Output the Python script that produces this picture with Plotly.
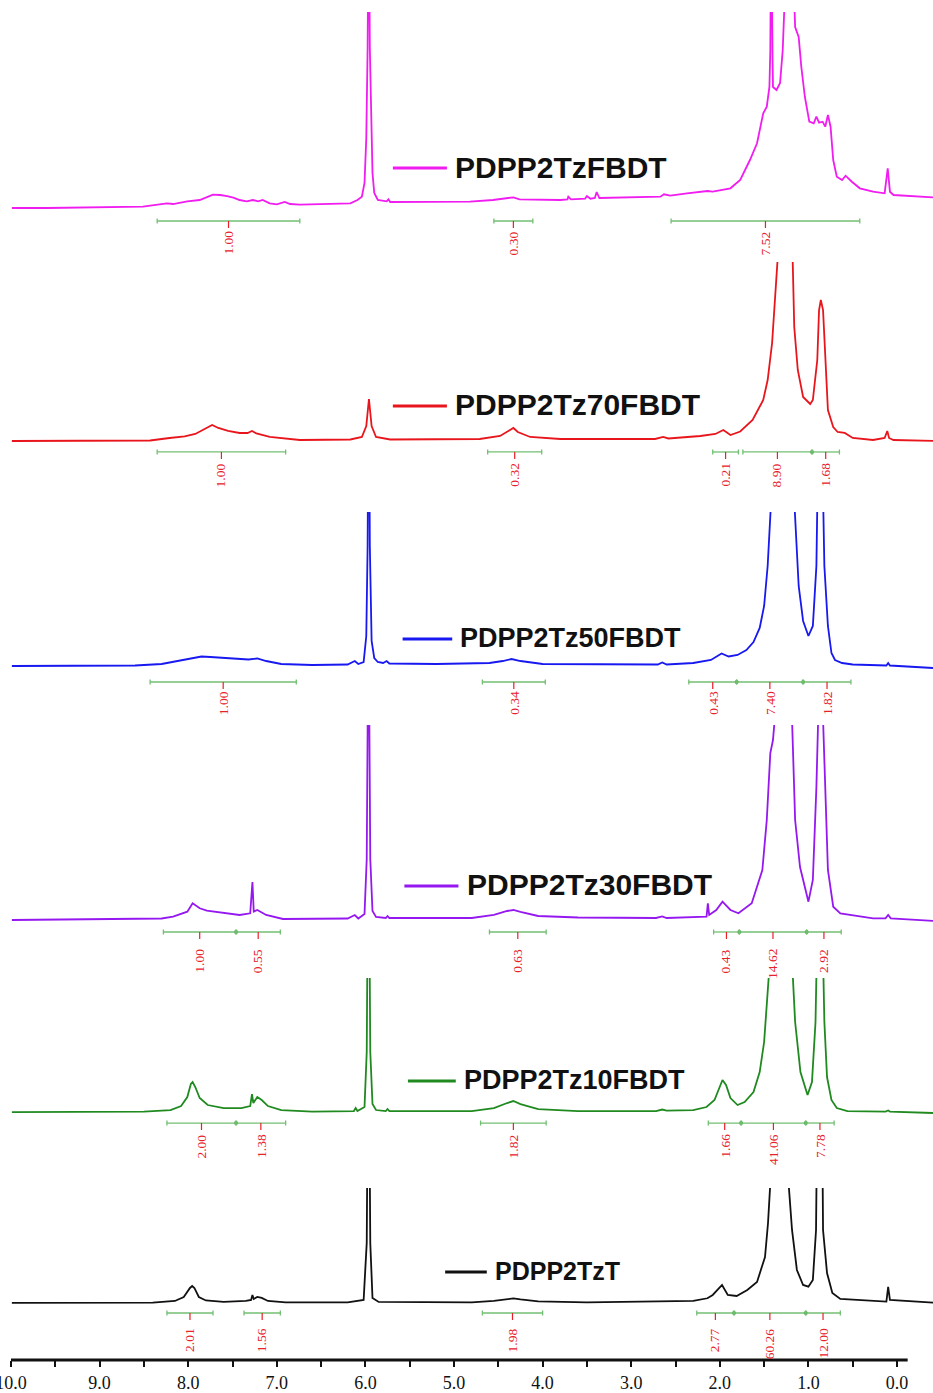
import plotly.graph_objects as go

# ---------------------------------------------------------------------------
# 1H NMR spectra (chemical shift in ppm, intensity in a.u.)
# ---------------------------------------------------------------------------
spec_fbdt = [
    (9.99, 0), (9.59, 0), (8.51, 1.3), (8.24, 4.7), (8.17, 4), (8.01, 6.7), (7.87, 8),
    (7.79, 10.7), (7.72, 13.3), (7.64, 13), (7.56, 12), (7.49, 10.3), (7.42, 8), (7.34, 6.7),
    (7.27, 8), (7.21, 6.7), (7.16, 8), (7.08, 4.7), (7.00, 3.7), (6.91, 6), (6.85, 4),
    (6.74, 3.3), (6.17, 4.7), (6.09, 8), (6.04, 11.3), (6.01, 25), (5.99, 70), (5.975, 160),
    (5.962, 320), (5.95, 160), (5.935, 80), (5.92, 35), (5.90, 15), (5.86, 8), (5.76, 6.7),
    (5.74, 8.7), (5.72, 6), (4.82, 6.3), (4.56, 8), (4.33, 10.7), (4.26, 8.7), (3.80, 8),
    (3.72, 8.7), (3.71, 11.3), (3.68, 8.7), (3.52, 9.3), (3.50, 12), (3.46, 9.3), (3.41, 10),
    (3.39, 16), (3.36, 10), (2.67, 11.3), (2.63, 13.7), (2.56, 12.3), (2.37, 14.7),
    (2.22, 16.3), (2.14, 17), (2.08, 16.3), (1.96, 18), (1.88, 19.7), (1.77, 28), (1.66, 48),
    (1.58, 64.7), (1.51, 94.7), (1.47, 101.3), (1.44, 121.3), (1.43, 158), (1.42, 300),
    (1.405, 150), (1.40, 121), (1.36, 118), (1.32, 125), (1.29, 158), (1.26, 250), (1.22, 320),
    (1.18, 260), (1.16, 200), (1.15, 181), (1.11, 171), (1.08, 141), (1.04, 111), (0.99, 86.3),
    (0.94, 84.7), (0.91, 91.3), (0.88, 85.3), (0.84, 86.3), (0.81, 81.3), (0.78, 93),
    (0.75, 81.3), (0.72, 48), (0.68, 31.3), (0.62, 28), (0.58, 32.3), (0.51, 26.3),
    (0.42, 19.7), (0.27, 16.3), (0.14, 14.7), (0.105, 39.7), (0.08, 16.3), (0.04, 13),
    (-0.41, 10.7),
]

spec_70 = [
    (9.99, 0), (8.43, 0.5), (8.21, 3), (8.04, 4.5), (7.92, 7), (7.81, 12), (7.73, 16),
    (7.66, 13), (7.55, 10), (7.42, 8), (7.33, 8), (7.28, 10), (7.23, 7.5), (7.08, 4),
    (6.74, 1), (6.17, 1.5), (6.04, 4), (5.99, 15), (5.96, 42), (5.93, 15), (5.88, 4),
    (5.72, 1.5), (4.71, 2), (4.48, 5), (4.37, 11), (4.33, 13), (4.28, 9), (4.14, 4),
    (3.80, 2), (2.73, 2), (2.64, 4), (2.58, 2.5), (2.22, 5), (2.05, 7), (1.96, 11),
    (1.88, 6), (1.77, 9.5), (1.63, 21), (1.51, 41), (1.46, 61), (1.41, 98), (1.38, 148),
    (1.35, 190), (1.30, 280), (1.26, 300), (1.21, 260), (1.18, 190), (1.16, 114),
    (1.12, 71), (1.06, 44), (0.98, 37), (0.95, 41), (0.90, 81), (0.88, 131), (0.86, 141),
    (0.835, 131), (0.81, 81), (0.78, 31), (0.72, 14), (0.67, 9), (0.59, 8), (0.50, 3),
    (0.27, 1), (0.14, 3), (0.11, 10), (0.09, 3), (0.04, 1), (-0.41, 0),
]

spec_50 = [
    (9.99, 0), (8.6, 0.5), (8.3, 2), (8.1, 5), (7.95, 8), (7.85, 9.5), (7.75, 9), (7.6, 8),
    (7.45, 7), (7.32, 6.5), (7.22, 7.5), (7.12, 5), (6.95, 2), (6.6, 1), (6.2, 1.5),
    (6.12, 5), (6.08, 2), (6.02, 4), (5.99, 30), (5.975, 120), (5.962, 320), (5.95, 120),
    (5.93, 25), (5.90, 8), (5.86, 4), (5.80, 3), (5.76, 5), (5.73, 2.5), (5.2, 2), (4.6, 3),
    (4.45, 5), (4.35, 7), (4.25, 5), (4.0, 2), (2.7, 1.5), (2.65, 3.5), (2.60, 1.5),
    (2.3, 3), (2.1, 6), (1.98, 12.5), (1.90, 9.5), (1.80, 11), (1.70, 16), (1.62, 24),
    (1.55, 38), (1.50, 60), (1.46, 100), (1.44, 150), (1.43, 170), (1.40, 200), (1.30, 300),
    (1.22, 300), (1.18, 200), (1.15, 150), (1.11, 80), (1.06, 45), (1.00, 30), (0.95, 40),
    (0.91, 100), (0.89, 220), (0.87, 320), (0.845, 220), (0.82, 100), (0.78, 40),
    (0.74, 13), (0.70, 6), (0.62, 3), (0.50, 1.5), (0.2, 0.5), (0.12, 0.5), (0.10, 3),
    (0.08, 0.5), (-0.41, -2),
]

spec_30 = [
    (9.99, -1), (8.30, 0.5), (8.17, 2.3), (8.01, 7.3), (7.95, 15.7), (7.87, 10.7),
    (7.79, 8.3), (7.56, 5.7), (7.42, 4), (7.30, 5.7), (7.275, 37), (7.26, 7.3), (7.22, 9),
    (7.12, 4), (6.93, 0), (6.2, 0.5), (6.12, 4), (6.08, 0.5), (6.01, 5), (5.985, 60),
    (5.965, 320), (5.945, 60), (5.92, 8), (5.88, 2), (5.77, 1), (5.75, 3), (5.73, 1),
    (4.8, 1), (4.55, 4), (4.40, 8), (4.33, 9), (4.25, 7), (4.05, 3), (3.6, 1.5), (2.72, 1),
    (2.65, 2.5), (2.60, 1), (2.15, 2.3), (2.135, 15.7), (2.12, 4), (2.04, 9), (1.97, 17.3),
    (1.88, 9), (1.79, 5.7), (1.64, 15.7), (1.52, 49), (1.47, 99), (1.43, 166), (1.42, 172),
    (1.40, 179), (1.38, 200), (1.30, 320), (1.22, 300), (1.185, 200), (1.15, 99),
    (1.095, 52), (1.00, 17.3), (0.95, 39), (0.91, 132), (0.89, 200), (0.87, 320),
    (0.835, 200), (0.81, 132), (0.78, 49), (0.72, 12.3), (0.64, 5.7), (0.27, 0.7),
    (0.13, 0.7), (0.10, 4), (0.07, 0.7), (-0.41, -2),
]

spec_10 = [
    (9.99, 0), (8.5, 0.5), (8.2, 2), (8.08, 6), (8.01, 15), (7.97, 28), (7.95, 30),
    (7.92, 25), (7.87, 14), (7.78, 7), (7.60, 4), (7.40, 4), (7.30, 6), (7.28, 18),
    (7.265, 9), (7.22, 15), (7.17, 12), (7.10, 6), (6.95, 2), (6.6, 0.5), (6.13, 1),
    (6.11, 4), (6.09, 1), (6.01, 5), (5.985, 60), (5.965, 320), (5.945, 60), (5.92, 8),
    (5.88, 2), (5.77, 1), (5.75, 3), (5.73, 1), (4.8, 1), (4.55, 4), (4.40, 9), (4.33, 11),
    (4.25, 8), (4.05, 3), (3.6, 1), (2.72, 1), (2.65, 2.5), (2.60, 1.5), (2.3, 2), (2.15, 5),
    (2.06, 12), (2.00, 26), (1.97, 32), (1.93, 27), (1.88, 14), (1.80, 7), (1.72, 10),
    (1.62, 20), (1.55, 40), (1.50, 70), (1.46, 120), (1.44, 160), (1.30, 320), (1.22, 300),
    (1.19, 160), (1.15, 90), (1.09, 40), (1.01, 17), (0.96, 30), (0.92, 90), (0.895, 200),
    (0.87, 320), (0.845, 200), (0.82, 90), (0.79, 35), (0.74, 12), (0.68, 4), (0.56, 1),
    (0.13, 0.5), (0.10, 1.5), (0.08, 0.5), (-0.41, -1),
]

spec_t = [
    (9.99, 0), (8.4, 0.3), (8.15, 2), (8.05, 6), (7.98, 15), (7.955, 17), (7.93, 15),
    (7.88, 6), (7.80, 2.5), (7.6, 1), (7.35, 2), (7.29, 3), (7.275, 8), (7.26, 4),
    (7.22, 6), (7.17, 5), (7.10, 2), (6.9, 0.5), (6.2, 0.5), (6.02, 3), (5.985, 60),
    (5.965, 320), (5.945, 60), (5.92, 5), (5.85, 1), (4.8, 0.5), (4.55, 2), (4.40, 4),
    (4.33, 4.5), (4.25, 3.5), (4.05, 1.5), (3.5, 0.5), (2.3, 2), (2.14, 4.7), (2.08, 8),
    (1.975, 18), (1.91, 8), (1.81, 7), (1.69, 13), (1.58, 21), (1.49, 46), (1.456, 80),
    (1.42, 113), (1.30, 320), (1.24, 300), (1.22, 115), (1.185, 73), (1.13, 33),
    (1.06, 18), (1.00, 16.3), (0.95, 23), (0.914, 73), (0.90, 200), (0.87, 320),
    (0.846, 200), (0.835, 73), (0.79, 30), (0.73, 10), (0.64, 4), (0.27, 2.3), (0.12, 1.3),
    (0.10, 16), (0.08, 3), (-0.41, 0.3),
]

sample_names = ["PDPP2TzFBDT", "PDPP2Tz70FBDT", "PDPP2Tz50FBDT",
                "PDPP2Tz30FBDT", "PDPP2Tz10FBDT", "PDPP2TzT"]
spectra = [spec_fbdt, spec_70, spec_50, spec_30, spec_10, spec_t]

# integration regions: (start ppm, end ppm, integral)
integrals = [
    [(8.35, 6.74, "1.00"), (4.55, 4.11, "0.30"), (2.55, 0.42, "7.52")],
    [(8.35, 6.90, "1.00"), (4.62, 4.01, "0.32"), (2.08, 1.79, "0.21"),
     (1.74, 0.96, "8.90"), (0.96, 0.65, "1.68")],
    [(8.43, 6.78, "1.00"), (4.68, 3.97, "0.34"), (2.35, 1.81, "0.43"),
     (1.81, 1.06, "7.40"), (1.06, 0.52, "1.82")],
    [(8.28, 7.46, "1.00"), (7.46, 6.96, "0.55"), (4.60, 3.96, "0.63"),
     (2.07, 1.78, "0.43"), (1.78, 1.02, "14.62"), (1.02, 0.63, "2.92")],
    [(8.24, 7.46, "2.00"), (7.46, 6.90, "1.38"), (4.70, 3.96, "1.82"),
     (2.13, 1.76, "1.66"), (1.76, 1.03, "41.06"), (1.03, 0.71, "7.78")],
    [(8.24, 7.72, "2.01"), (7.37, 6.96, "1.56"), (4.68, 4.00, "1.98"),
     (2.26, 1.84, "2.77"), (1.84, 1.03, "60.26"), (1.03, 0.64, "12.00")],
]

tick_ppm = [10.0, 9.5, 9.0, 8.5, 8.0, 7.5, 7.0, 6.5, 6.0, 5.5, 5.0,
            4.5, 4.0, 3.5, 3.0, 2.5, 2.0, 1.5, 1.0, 0.5, 0.0]
tick_text = ["10.0", "", "9.0", "", "8.0", "", "7.0", "", "6.0", "", "5.0",
             "", "4.0", "", "3.0", "", "2.0", "", "1.0", "", "0.0"]

# ---------------------------------------------------------------------------
# styling / layout
# ---------------------------------------------------------------------------
colors = ["#f01cf0", "#e8161c", "#1818f0", "#9618f0", "#208a20", "#111111"]
domains = [(0.8119, 0.9914), (0.6375, 0.8119), (0.4831, 0.6325),
           (0.3001, 0.4795), (0.1493, 0.2979), (0.0237, 0.1472)]
yranges = [(-54, 196), (-64, 179), (-54, 154), (-56, 194), (-73, 134), (-57, 115)]
# name key: (segment start, segment end, segment height, text x, text height, font size)
name_pos = [(5.69, 5.08, 40, 5.01, 41, 30), (5.69, 5.08, 35, 5.01, 36, 30),
            (5.58, 5.02, 27, 4.96, 28, 27), (5.56, 4.95, 33, 4.88, 34, 30),
            (5.52, 4.98, 31, 4.91, 32, 27), (5.10, 4.63, 31, 4.56, 32, 25)]
# integral bar height and label top, relative to baseline
int_pos = [(-13, -22), (-11, -21), (-16, -24), (-13, -29), (-11, -21), (-10, -24)]

GREEN = "#72bf72"
RED = "#e8202a"
SERIF = "Liberation Serif, Times New Roman, serif"
SANS = "Liberation Sans, Arial, sans-serif"

fig = go.Figure()
shapes = []
annotations = []

for i, (spec, color) in enumerate(zip(spectra, colors)):
    yname = "y" if i == 0 else f"y{i + 1}"
    ppm = [p for p, _ in spec]
    inten = [v for _, v in spec]
    fig.add_trace(go.Scatter(x=ppm, y=inten, mode="lines", xaxis="x", yaxis=yname,
                             line=dict(color=color, width=1.8), showlegend=False,
                             hoverinfo="skip"))

    # sample key: coloured segment and bold name
    sx0, sx1, sy, tx, ty, fs = name_pos[i]
    shapes.append(dict(type="line", xref="x", yref=yname, x0=sx0, x1=sx1, y0=sy, y1=sy,
                       line=dict(color=color, width=3)))
    annotations.append(dict(x=tx, y=ty, xref="x", yref=yname, text=sample_names[i],
                            showarrow=False, xanchor="left", yanchor="middle",
                            font=dict(family=SANS, size=fs, color="#111111",
                                      weight="bold")))

    # integration bars
    bar_h, lab_h = int_pos[i]
    ends = []
    for a, b, val in integrals[i]:
        shapes.append(dict(type="line", xref="x", yref=yname, x0=a, x1=b,
                           y0=bar_h, y1=bar_h, line=dict(color=GREEN, width=1.3)))
        for e in (a, b):
            shapes.append(dict(type="line", xref="x", yref=yname, x0=e, x1=e,
                               y0=bar_h - 2.5, y1=bar_h + 2.5,
                               line=dict(color=GREEN, width=1.3)))
        ends.extend([a, b])
        mid = (a + b) / 2
        shapes.append(dict(type="line", xref="x", yref=yname, x0=mid, x1=mid,
                           y0=bar_h, y1=bar_h - 7, line=dict(color=RED, width=1.2)))
        annotations.append(dict(x=mid, y=lab_h, xref="x", yref=yname, text=val,
                                textangle=-90, showarrow=False, xanchor="center",
                                yanchor="top", borderpad=0,
                                font=dict(family=SERIF, size=13.5, color=RED)))
    joints = sorted({e for e in ends if ends.count(e) > 1})
    if joints:
        fig.add_trace(go.Scatter(x=joints, y=[bar_h] * len(joints), mode="markers",
                                 xaxis="x", yaxis=yname, showlegend=False,
                                 hoverinfo="skip", cliponaxis=False,
                                 marker=dict(color="#3f9f3f", size=4)))

# chemical-shift axis line
shapes.append(dict(type="line", xref="x", yref="y6 domain", x0=10.0, x1=-0.12, y0=0, y1=0,
                   line=dict(color="#111111", width=3)))

layout = dict(
    width=933, height=1393,
    margin=dict(l=0, r=0, t=0, b=0, autoexpand=False),
    paper_bgcolor="white", plot_bgcolor="white",
    showlegend=False,
    shapes=shapes, annotations=annotations,
    xaxis=dict(range=[10.124, -0.406], domain=[0, 1], anchor="y6", automargin=False,
               tickvals=tick_ppm, ticktext=tick_text, ticks="outside", ticklen=6,
               tickwidth=2, tickcolor="#111111", showline=False, showgrid=False,
               zeroline=False, ticklabeloverflow="allow", ticklabelstandoff=0,
               tickfont=dict(family=SERIF, size=18, color="#111111")),
)
for i in range(6):
    key = "yaxis" if i == 0 else f"yaxis{i + 1}"
    layout[key] = dict(domain=list(domains[i]), range=list(yranges[i]), visible=False,
                       anchor="x", showgrid=False, zeroline=False, automargin=False)
fig.update_layout(**layout)

fig.write_html("out.html")
